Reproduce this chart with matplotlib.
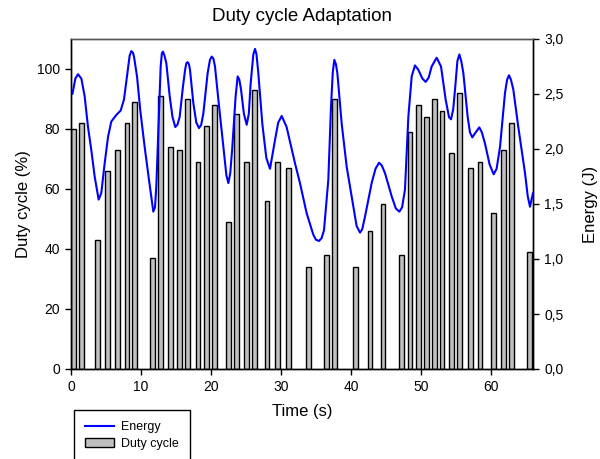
import matplotlib
matplotlib.use("Agg")
import matplotlib.pyplot as plt
from matplotlib.lines import Line2D
from matplotlib.patches import Patch
from matplotlib.ticker import FuncFormatter

plt.rcParams['font.family'] = ['Liberation Sans', 'DejaVu Sans']

# Duty cycle bars (time in s, duty cycle in %)
bar_time = [0.39, 1.54, 3.83, 5.26, 6.67, 8.0, 9.03, 11.69, 12.83, 14.26, 15.54,
            16.64, 18.14, 19.36, 20.46, 22.54, 23.64, 25.1, 26.21, 28.0, 29.54,
            31.1, 33.89, 36.53, 37.61, 40.6, 42.71, 44.57, 47.24, 48.43, 49.61,
            50.81, 51.89, 53.0, 54.4, 55.5, 57.03, 58.43, 60.33, 61.76, 62.9, 65.54]
duty_cycle = [80, 82, 43, 66, 73, 82, 89, 37, 91, 74, 73,
              90, 69, 81, 88, 49, 85, 69, 93, 56, 69,
              67, 34, 38, 90, 34, 46, 55, 38, 79, 88,
              84, 90, 86, 72, 92, 67, 69, 52, 73, 82, 39]

# Energy curve (time in s, energy in J)
energy_time = [0.2, 0.62, 1.0, 1.48, 1.95, 2.43, 2.9, 3.38, 3.95, 4.33, 4.81, 5.29,
               5.76, 6.48, 7.1, 7.57, 8.05, 8.38, 8.62, 8.85, 9.0, 9.43, 9.9, 10.52,
               11.14, 11.76, 12.0, 12.19, 12.52, 12.81, 12.98, 13.14, 13.35, 13.62,
               14.1, 14.5, 14.9, 15.2, 15.52, 16.0, 16.3, 16.48, 16.67, 16.85, 17.0,
               17.48, 17.9, 18.29, 18.6, 18.9, 19.52, 19.85, 20.1, 20.35, 20.57,
               21.05, 21.76, 22.2, 22.48, 22.75, 23.05, 23.52, 23.81, 24.05, 24.29,
               24.7, 25.1, 25.4, 25.67, 26.05, 26.29, 26.5, 26.76, 27.33, 27.9,
               28.43, 29.14, 29.6, 30.1, 30.8, 32.0, 32.71, 33.67, 34.62,
               35.0, 35.43, 35.8, 36.14, 36.76, 37.14, 37.4, 37.62, 37.85, 38.05,
               38.67, 39.38, 40.33, 40.8, 41.29, 41.6, 42.0, 42.95, 43.5, 44.0,
               44.4, 44.86, 45.81, 46.4, 46.9, 47.3, 47.71, 48.19, 48.67, 49.14,
               49.62, 50.2, 50.67, 51.1, 51.52, 52.24, 52.86, 53.52, 54.0, 54.29,
               54.6, 54.86, 55.2, 55.48, 55.75, 56.05, 56.67, 57.0, 57.33, 57.8,
               58.33, 58.7, 59.14, 59.8, 60.38, 60.8, 61.29, 62.0, 62.3, 62.57,
               62.85, 63.19, 63.9, 64.86, 65.25, 65.57, 66.0]
energy = [2.50, 2.64, 2.68, 2.64, 2.48, 2.20, 1.99, 1.75, 1.54, 1.60, 1.87, 2.11,
          2.25, 2.31, 2.35, 2.45, 2.69, 2.85, 2.89, 2.875, 2.84, 2.66, 2.35, 2.02,
          1.72, 1.43, 1.47, 1.66, 2.23, 2.75, 2.87, 2.885, 2.85, 2.78,
          2.48, 2.29, 2.20, 2.22, 2.29, 2.57, 2.72, 2.78, 2.79, 2.77, 2.72,
          2.415, 2.24, 2.19, 2.22, 2.32, 2.69, 2.81, 2.84, 2.82, 2.75,
          2.45, 2.02, 1.76, 1.69, 1.78, 2.02, 2.48, 2.66, 2.63, 2.54,
          2.32, 2.22, 2.32, 2.60, 2.86, 2.91, 2.86, 2.69, 2.23, 1.92,
          1.82, 2.08, 2.24, 2.30, 2.20, 1.87, 1.69, 1.415, 1.22,
          1.175, 1.164, 1.19, 1.26, 1.72, 2.38, 2.70, 2.81, 2.77, 2.69,
          2.23, 1.84, 1.475, 1.30, 1.24, 1.27, 1.385, 1.69, 1.82, 1.875,
          1.85, 1.78, 1.57, 1.46, 1.43, 1.47, 1.63, 2.29, 2.66, 2.76,
          2.72, 2.64, 2.61, 2.65, 2.75, 2.83, 2.75, 2.45, 2.29, 2.27,
          2.36, 2.54, 2.80, 2.86, 2.80, 2.69, 2.29, 2.15, 2.106, 2.15,
          2.197, 2.15, 2.05, 1.86, 1.77, 1.82, 2.02, 2.51, 2.63, 2.67,
          2.63, 2.54, 2.20, 1.78, 1.57, 1.475, 1.60]

x_ticks = [0, 10, 20, 30, 40, 50, 60]
duty_ticks = [0, 20, 40, 60, 80, 100]
energy_ticks = [0.0, 0.5, 1.0, 1.5, 2.0, 2.5, 3.0]

fig = plt.figure(figsize=(6.0, 4.59), dpi=100)
ax = fig.add_axes([71/600, 1-369/459, (533-71)/600, (369-39)/459])
ax2 = ax.twinx()

ax.bar(bar_time, duty_cycle, width=0.7, color='#c0c0c0', edgecolor='black',
       linewidth=1.0, zorder=2)
ax2.plot(energy_time, energy, color='#0000ff', linewidth=1.5, zorder=3,
         solid_joinstyle='round', solid_capstyle='round')

ax.set_xlim(0, 66)
ax.set_ylim(0, 110)
ax2.set_ylim(0, 3.0)

ax.set_xticks(x_ticks)
ax.set_yticks(duty_ticks)
ax2.set_yticks(energy_ticks)
ax2.yaxis.set_major_formatter(FuncFormatter(lambda v, p: f"{v:.1f}".replace('.', ',')))

for a in (ax, ax2):
    a.tick_params(direction='out', length=4, width=1, labelsize=10, colors='black')
    for s in a.spines.values():
        s.set_linewidth(1.0)
ax.spines['top'].set_color('#555555')
ax2.spines['top'].set_color('#555555')
ax.tick_params(axis='both', pad=4)
ax2.tick_params(axis='y', pad=4)

ax.set_xlabel('Time (s)', fontsize=12, labelpad=7)
ax.set_ylabel('Duty cycle (%)', fontsize=12, labelpad=4)
ax2.set_ylabel('Energy (J)', fontsize=12, labelpad=14)
ax.set_title('Duty cycle Adaptation', fontsize=13.5, pad=13)

handles = [Line2D([0], [0], color='#0000ff', linewidth=1.5),
           Patch(facecolor='#c0c0c0', edgecolor='black', linewidth=1.0)]
leg = fig.legend(handles, ['Energy', 'Duty cycle'], loc='upper left',
                 bbox_to_anchor=(74/600, 1-410/459), fontsize=9, frameon=True,
                 fancybox=False, edgecolor='black', framealpha=1,
                 borderpad=0.9, handlelength=2.3, handletextpad=0.55,
                 labelspacing=0.35, borderaxespad=0)
leg.get_frame().set_linewidth(1.0)

fig.savefig('out.png', dpi=100)
